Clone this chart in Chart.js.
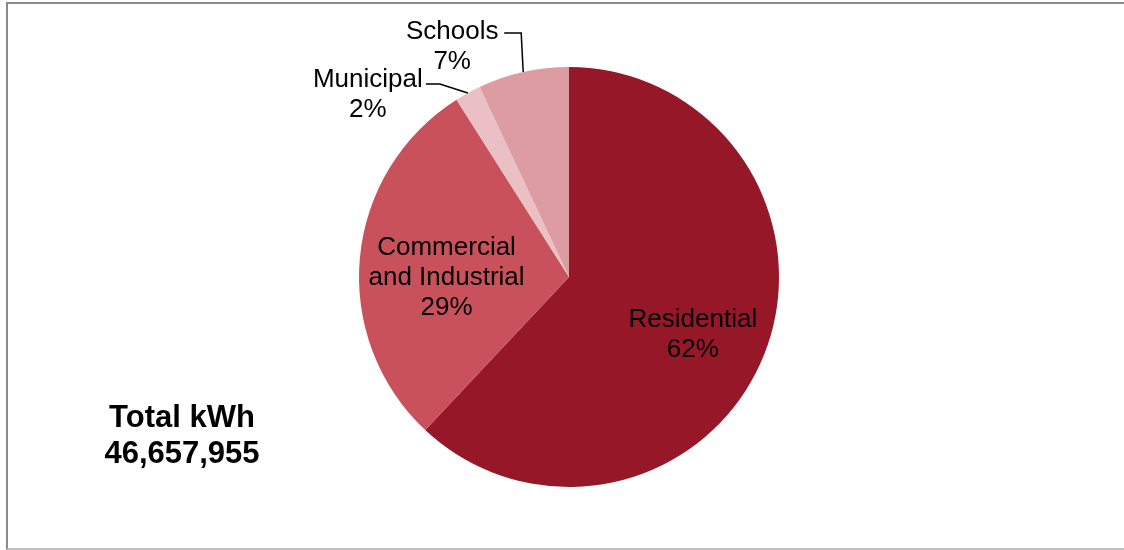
<!DOCTYPE html>
<html>
<head>
<meta charset="utf-8">
<script src="https://cdn.jsdelivr.net/npm/chart.js@4"></script>
<style>
  html, body { margin: 0; padding: 0; background: #fff; overflow: hidden; }
  #wrap { position: relative; width: 1124px; height: 550px; }
  #frame {
    position: absolute; left: 6px; top: 2px; width: 1200px; height: 544px;
    border: 2px solid #8a8a8a; border-bottom-color: #c0c0c0; pointer-events: none;
  }
  canvas { position: absolute; left: 0; top: 0; }
</style>
</head>
<body>
<div id="wrap">
  <canvas id="pieChart" width="1124" height="550"></canvas>
  <div id="frame"></div>
</div>
<script>
"use strict";
var categories = ['Residential', 'Commercial and Industrial', 'Municipal', 'Schools'];
var shares = [62, 29, 2, 7];
var sliceColors = ['#951728', '#C9515C', '#EAC0C4', '#DD9CA2'];
var labelLines = [['Residential', '62%'], ['Commercial', 'and Industrial', '29%'], ['Municipal', '2%'], ['Schools', '7%']];
var totalLines = ['Total kWh', '46,657,955'];

// where each label sits: inside ones along the mid angle, outside ones off the rim point
var labelPlace = [
  { inside: true, f: 0.66, dx: -5, dy: 7 },
  { inside: true, f: 0.60, dx: 3, dy: 13 },
  { inside: false, tx: -100, ty: -6, elbow: [-28, -9], end: [-42, -9] },
  { inside: false, tx: -71, ty: -33, elbow: [-2, -39], end: [-19, -39] }
];

var pieLabels = {
  id: 'pieLabels',
  afterDatasetsDraw: function(chart) {
    var ctx = chart.ctx;
    var arcs = chart.getDatasetMeta(0).data;
    ctx.save();
    ctx.fillStyle = '#000';
    ctx.textAlign = 'center';
    ctx.textBaseline = 'alphabetic';
    ctx.font = '26px "Liberation Sans", Arial, sans-serif';
    arcs.forEach(function(arc, i) {
      var p = arc.getProps(['x', 'y', 'startAngle', 'endAngle', 'outerRadius'], true);
      var mid = (p.startAngle + p.endAngle) / 2;
      var lines = labelLines[i];
      var place = labelPlace[i];
      var lh = 30;
      if (place.inside) {
        var cx = p.x + Math.cos(mid) * p.outerRadius * place.f + place.dx;
        var cy = p.y + Math.sin(mid) * p.outerRadius * place.f + place.dy;
        var top = cy - (lines.length * lh) / 2;
        lines.forEach(function(t, k) {
          ctx.fillText(t, cx, top + k * lh + 22);
        });
      } else {
        var ex = p.x + Math.cos(mid) * p.outerRadius;
        var ey = p.y + Math.sin(mid) * p.outerRadius;
        lines.forEach(function(t, k) {
          ctx.fillText(t, ex + place.tx, ey + place.ty + k * lh);
        });
        ctx.beginPath();
        ctx.strokeStyle = '#000';
        ctx.lineWidth = 1.5;
        ctx.moveTo(ex, ey);
        ctx.lineTo(ex + place.elbow[0], ey + place.elbow[1]);
        ctx.lineTo(ex + place.end[0], ey + place.end[1]);
        ctx.stroke();
      }
    });
    ctx.font = 'bold 31px "Liberation Sans", Arial, sans-serif';
    ctx.fillText(totalLines[0], 182, 427);
    ctx.fillText(totalLines[1], 182, 463);
    ctx.restore();
  }
};

new Chart(document.getElementById('pieChart').getContext('2d'), {
  type: 'pie',
  data: {
    labels: categories,
    datasets: [{
      data: shares,
      backgroundColor: sliceColors,
      borderWidth: 0
    }]
  },
  options: {
    responsive: false,
    animation: false,
    layout: { padding: { top: 67, bottom: 63, left: 14, right: 0 } },
    plugins: { legend: { display: false }, tooltip: { enabled: false } }
  },
  plugins: [pieLabels]
});
</script>
</body>
</html>
